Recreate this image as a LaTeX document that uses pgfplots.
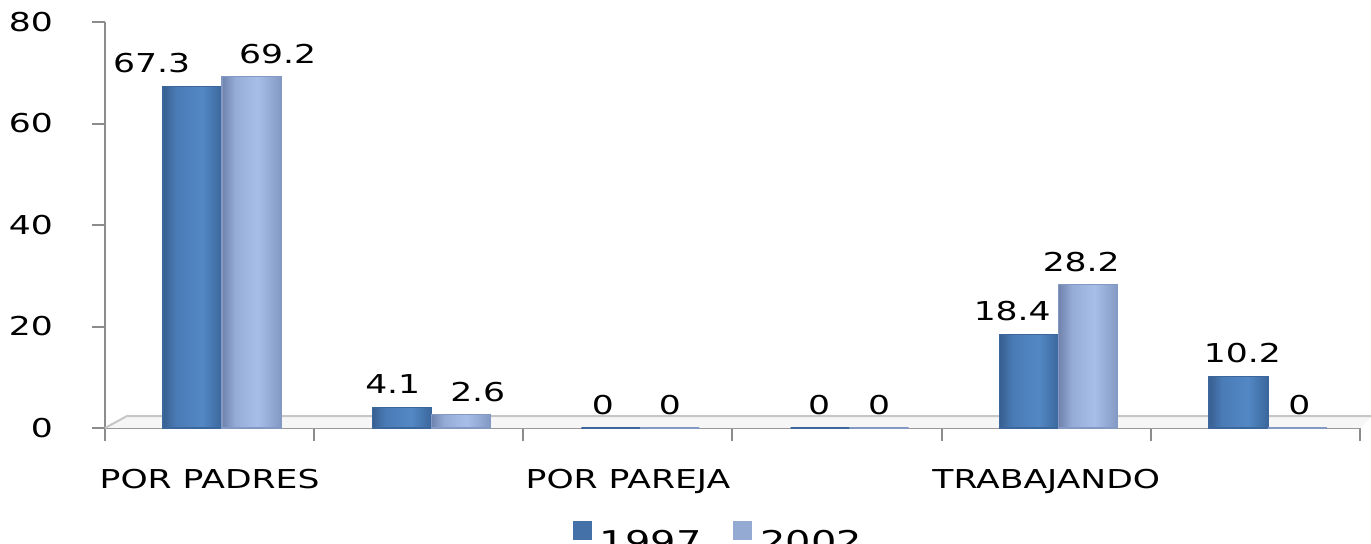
\documentclass[border=0pt]{standalone}
\usepackage{fontspec}
\setmainfont{DejaVu Sans}[FakeStretch=1.33]
\usepackage{pgfplots}
\pgfplotsset{compat=1.18}
\usepackage{pgfplotstable}
\definecolor{axisgray}{HTML}{8C8C8C}
\definecolor{dkA}{HTML}{375F90}
\definecolor{dkB}{HTML}{4A7BB6}
\definecolor{dkC}{HTML}{5388C5}
\definecolor{dkD}{HTML}{3B679C}
\definecolor{ltA}{HTML}{6F83AB}
\definecolor{ltB}{HTML}{95ACD8}
\definecolor{ltC}{HTML}{A7BFE8}
\definecolor{ltD}{HTML}{8399C3}
\definecolor{legdk}{HTML}{4472A8}
\definecolor{leglt}{HTML}{95AAD3}
\pgfdeclarehorizontalshading{cylD}{100bp}{color(0bp)=(dkA); color(25bp)=(dkA); color(36bp)=(dkB); color(58bp)=(dkC); color(75bp)=(dkD); color(100bp)=(dkD)}
\pgfdeclarehorizontalshading{cylL}{100bp}{color(0bp)=(ltA); color(25bp)=(ltA); color(36bp)=(ltB); color(55bp)=(ltC); color(75bp)=(ltD); color(100bp)=(ltD)}
\pgfplotstableread{
x y dx
0 67.3 -20.5
1 4.1 -4.5
2 0 -4
3 0 -0.5
4 18.4 -8.5
5 10.2 2
}\tA
\pgfplotstableread{
x y dx
0 69.2 13
1 2.6 8.5
2 0 0
3 0 0
4 28.2 -3.5
5 0 1
}\tB
\begin{document}
\begin{tikzpicture}[font=\fontsize{13}{15}\selectfont]
\useasboundingbox (-52.5pt,-57.5pt) rectangle (633pt,214pt);
\clip (-52.5pt,-57.5pt) rectangle (633pt,214pt);
\begin{axis}[
  at={(0,0)}, anchor=south west,
  scale only axis, width=627.5pt, height=203pt,
  xmin=-0.5, xmax=5.5, ymin=0, ymax=80,
  clip=false,
  axis x line*=bottom, axis y line*=left,
  axis line style={axisgray, line width=1pt},
  every tick/.style={axisgray, line width=1pt},
  tick align=outside,
  major tick length=6.5pt,
  ytick={0,20,40,60,80},
  xtick={-0.5,0.5,...,5.5}, xticklabels={},
  extra x ticks={0,2,4},
  extra x tick labels={POR PADRES,POR PAREJA,TRABAJANDO},
  extra x tick style={major tick length=0pt, tick style={draw=none}},
  /pgf/number format/assume math mode=true,
  xticklabel style={yshift=-17pt},
  yticklabel style={xshift=-16pt},
  ybar=0pt, bar width=29.5pt,
  nodes near coords,
  nodes near coords style={yshift=3pt},
  legend style={at={(axis description cs:0.5,0)}, anchor=north, yshift=-44.5pt, xshift=-6.5pt,
    draw=none, fill=none, legend columns=2, font=\fontsize{15}{18}\selectfont,
    /tikz/every odd column/.style={column sep=2pt},
    /tikz/every even column/.style={column sep=14pt}},
]
\fill[gray!7] (rel axis cs:0,0) -- ([shift={(11pt,6pt)}]rel axis cs:0,0) -- ([shift={(6pt,6pt)}]rel axis cs:1,0) -- (rel axis cs:1,0) -- cycle;
\draw[gray!45, line width=1pt] (rel axis cs:0,0) -- ([shift={(11pt,6pt)}]rel axis cs:0,0) -- ([shift={(6pt,6pt)}]rel axis cs:1,0);
\pgfplotsinvokeforeach{0,...,5}{
\addplot[forget plot, bar shift=-8.5pt, draw=dkD, line width=0.6pt,
  shade, shading=cylD,
  restrict expr to domain={\coordindex}{#1:#1},
  visualization depends on={\thisrow{dx} \as \dx},
  every node near coord/.append style={xshift=\dx, black}]
  table[x=x, y=y] {\tA};
\addplot[forget plot, bar shift=21pt, draw=ltD, line width=0.6pt,
  shade, shading=cylL,
  restrict expr to domain={\coordindex}{#1:#1},
  visualization depends on={\thisrow{dx} \as \dx},
  every node near coord/.append style={xshift=\dx, black}]
  table[x=x, y=y] {\tB};
}
\addlegendimage{legend image code/.code={\fill[legdk] (0pt,1.5pt) rectangle (9pt,10.5pt);}}
\addlegendimage{legend image code/.code={\fill[leglt] (0pt,1.5pt) rectangle (9pt,10.5pt);}}
\legend{1997,2002}
\end{axis}
\end{tikzpicture}
\end{document}
